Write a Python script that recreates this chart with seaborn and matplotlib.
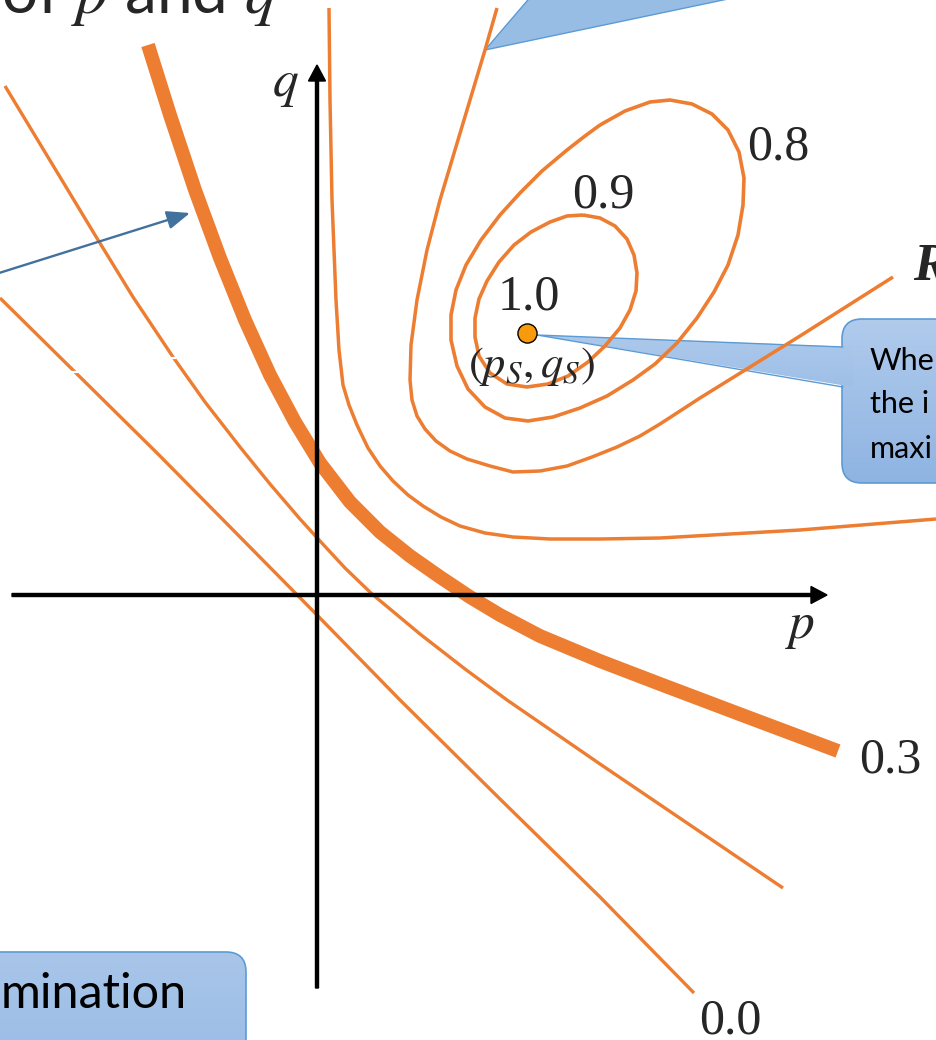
import numpy as np
import pandas as pd
import matplotlib
matplotlib.use("Agg")
import matplotlib.pyplot as plt
import seaborn as sns
from matplotlib.patches import FancyBboxPatch, Polygon, FancyArrow
from matplotlib.colors import to_rgb

# ---------------------------------------------------------------------------
# Iso-level curves of the objective in the (p, q) plane (units of 1/100)
# ---------------------------------------------------------------------------
level_00_p = [-317, -239, -160, -77, 0, 83, 183, 283, 377]
level_00_q = [297, 220, 142, 58, -20, -105, -204, -302, -398]

level_01_p = [-312, -257, -222, -184, -144, -112, -77, -47, -17, 3, 28, 55, 103, 148, 190, 238,
              283, 373, 466]
level_01_q = [509, 418, 360, 298, 238, 193, 148, 111, 76, 54, 27, 1, -39, -74, -105, -138,
              -169, -230, -293]

level_03_p = [-169, -147, -122, -97, -72, -47, -22, 3, 33, 63, 93, 123, 153, 183, 223, 283,
              343, 433, 521]
level_03_q = [550, 480, 405, 337, 275, 220, 173, 132, 93, 63, 39, 18, -2, -20, -41, -66,
              -89, -123, -156]

level_05_p = [12, 13, 15, 19, 22, 26, 32, 40, 51, 63, 76, 91, 106, 124, 143, 168, 196, 233,
              283, 343, 483, 619]
level_05_q = [587, 495, 395, 295, 245, 210, 190, 170, 147, 129, 114, 100, 89, 78, 69, 62, 58, 56,
              56, 57, 65, 76]

level_06_p = [180, 168, 153, 138, 123, 110, 100, 94, 93, 95, 100, 108, 119, 133, 150, 173, 196,
              223, 250, 275, 300, 323, 343, 383, 483, 576]
level_06_q = [587, 545, 495, 445, 395, 345, 295, 250, 215, 195, 179, 166, 154, 144, 136, 129, 123,
              124, 129, 138, 148, 159, 171, 197, 259, 318]

level_08_p = [283, 308, 333, 353, 375, 395, 411, 422, 427, 426, 421, 411, 397, 380, 360, 338, 316,
              290, 263, 236, 211, 188, 168, 151, 140, 134, 134, 139, 149, 164, 183, 203, 225, 250,
              268, 283]
level_08_q = [470, 484, 493, 495, 491, 481, 465, 443, 417, 390, 360, 330, 303, 277, 252, 231, 215,
              199, 187, 178, 174, 177, 188, 206, 229, 255, 280, 305, 330, 355, 380, 402, 424, 445,
              459, 470]

level_09_p = [266, 283, 298, 310, 317, 320, 319, 313, 303, 288, 271, 251, 231, 210, 190, 173, 162,
              158, 158, 162, 170, 182, 197, 214, 233, 250, 266]
level_09_q = [380, 377, 369, 356, 340, 322, 304, 285, 267, 249, 233, 219, 211, 208, 211, 222, 239,
              258, 277, 296, 314, 333, 350, 363, 373, 379, 380]

# maximum of the objective
optimum_p = [210]
optimum_q = [262]

# level value labels
level_labels = ["0.0", "0.3", "0.8", "0.9", "1.0"]
level_label_p = [413, 573, 461, 286, 212]
level_label_q = [-403, -165, 448, 400, 298]

ORANGE = "#ed7d31"
BLUE_EDGE = "#5b9bd5"
SERIF = "Liberation Serif"

curves = [
    ("c00", level_00_p, level_00_q, 2.4),
    ("c01", level_01_p, level_01_q, 2.4),
    ("c03", level_03_p, level_03_q, 10.0),
    ("c05", level_05_p, level_05_q, 2.5),
    ("c06", level_06_p, level_06_q, 2.5),
    ("c08", level_08_p, level_08_q, 2.6),
    ("c09", level_09_p, level_09_q, 2.6),
]
frames = []
for name, ps, qs, _ in curves:
    frames.append(pd.DataFrame({"p": ps, "q": qs, "curve": name, "order": range(len(ps))}))
df = pd.concat(frames, ignore_index=True)
widths = {name: lw for name, _, _, lw in curves}

sns.set_theme(style="white")
plt.rcParams["font.family"] = ["Lato", "DejaVu Sans"]
plt.rcParams["mathtext.fontset"] = "stix"

fig = plt.figure(figsize=(9.36, 10.4), dpi=100)
ax = fig.add_axes([0, 0, 1, 1])
XLIM = (-317, 619)
YLIM = (-445, 595)


def gradient_patch(patch, top, bottom, z):
    """Fill a patch with a vertical colour gradient."""
    ax.add_patch(patch)
    patch.set_facecolor("none")
    bb = patch.get_path().get_extents(patch.get_patch_transform())
    n = 64
    c0, c1 = np.array(to_rgb(top)), np.array(to_rgb(bottom))
    t = np.linspace(0, 1, n)[:, None]
    img = (c0 * (1 - t) + c1 * t)[:, None, :]
    im = ax.imshow(img, extent=(bb.x0, bb.x1, bb.y0, bb.y1), origin="upper",
                   aspect="auto", zorder=z, interpolation="bilinear")
    im.set_clip_path(patch)


# --- callout pointing at the maximum -------------------------------------
box_r = FancyBboxPatch((525, 112), 200, 164, boxstyle="round,pad=0,rounding_size=20",
                       edgecolor=BLUE_EDGE, linewidth=1.2, zorder=1)
gradient_patch(box_r, "#b0cbec", "#8fb4e2", 0.9)
box_r.set_zorder(1.1)
wedge_r = Polygon([(536, 248), (220, 260), (536, 208)], closed=True,
                  edgecolor="none", zorder=1.2)
gradient_patch(wedge_r, "#acc9eb", "#9fbfe7", 1.2)
ax.plot([526, 220, 526], [248, 260, 208], color=BLUE_EDGE, lw=1.0, zorder=1.3)

# --- callout at the top ---------------------------------------------------
tri_top = Polygon([(168, 545), (222, 608), (468, 608)], closed=True,
                  facecolor="#98bde5", edgecolor=BLUE_EDGE, linewidth=1.0, zorder=1.2)
ax.add_patch(tri_top)

# --- callout at the bottom left ------------------------------------------
box_l = FancyBboxPatch((-340, -470), 269, 113, boxstyle="round,pad=0,rounding_size=20",
                       edgecolor=BLUE_EDGE, linewidth=1.2, zorder=1)
gradient_patch(box_l, "#a9c6e9", "#9abce6", 0.9)
box_l.set_zorder(1.1)

# --- iso-level curves ------------------------------------------------------
for name, sub in df.groupby("curve", sort=False):
    sub = sub.sort_values("order")
    sns.lineplot(data=sub, x="p", y="q", sort=False, estimator=None, color=ORANGE,
                 linewidth=widths[name], ax=ax, solid_capstyle="butt",
                 solid_joinstyle="round", zorder=2)

# small gaps on the two left lines
ax.plot([-247, -239], [223, 223], color="white", lw=1.6, zorder=2.5, solid_capstyle="butt")
ax.plot([-146, -141], [237, 237], color="white", lw=1.6, zorder=2.5, solid_capstyle="butt")

# --- coordinate axes -------------------------------------------------------
ax.add_patch(FancyArrow(-305, 0, 815, 0, width=3, head_width=17, head_length=16,
                        length_includes_head=True, color="black", zorder=3))
ax.add_patch(FancyArrow(0, -393, 0, 923, width=3, head_width=17, head_length=16,
                        length_includes_head=True, color="black", zorder=3))
ax.text(-32, 499, "$q$", fontsize=37, ha="center", va="baseline", zorder=4)
ax.text(483, -43, "$p$", fontsize=37, ha="center", va="baseline", zorder=4)

# --- maximum point ---------------------------------------------------------
sns.scatterplot(x=optimum_p, y=optimum_q, s=190, color="#f99a0c", edgecolor="black",
                linewidth=1.0, ax=ax, zorder=5)
ax.text(214, 228, r"$(p_S,q_S)$", fontsize=32, ha="center", va="center", zorder=4)

# --- level labels ----------------------------------------------------------
for lab, lp, lq in zip(level_labels, level_label_p, level_label_q):
    va = "top" if lab == "0.0" else "center"
    ax.text(lp, lq, lab, fontsize=36, family=SERIF, ha="center", va=va, zorder=4)

ax.text(596, 315, "R", fontsize=38, family=SERIF, style="italic", fontweight="bold",
        ha="left", va="baseline", zorder=4)

# --- title fragment and callout texts ------------------------------------
ax.text(-40, 582, "of $p$ and $q$", fontsize=46, ha="right", va="baseline", zorder=4)
for line, lq in zip(["Whe", "the i", "maxi"], [225, 182, 137]):
    ax.text(553, lq, line, fontsize=22, ha="left", va="baseline", color="black", zorder=4)
ax.text(-130, -413, "mination", fontsize=35, ha="right", va="baseline", color="black", zorder=4)

# --- pointer arrow ---------------------------------------------------------
ax.annotate("", xy=(-127, 382), xytext=(-337, 316),
            arrowprops=dict(arrowstyle="-|>,head_length=0.7,head_width=0.28", color="#41719c",
                            lw=1.7, shrinkA=0, shrinkB=0, mutation_scale=20), zorder=4)

ax.set_xlim(*XLIM)
ax.set_ylim(*YLIM)
ax.axis("off")
fig.savefig("out.png", dpi=100)
